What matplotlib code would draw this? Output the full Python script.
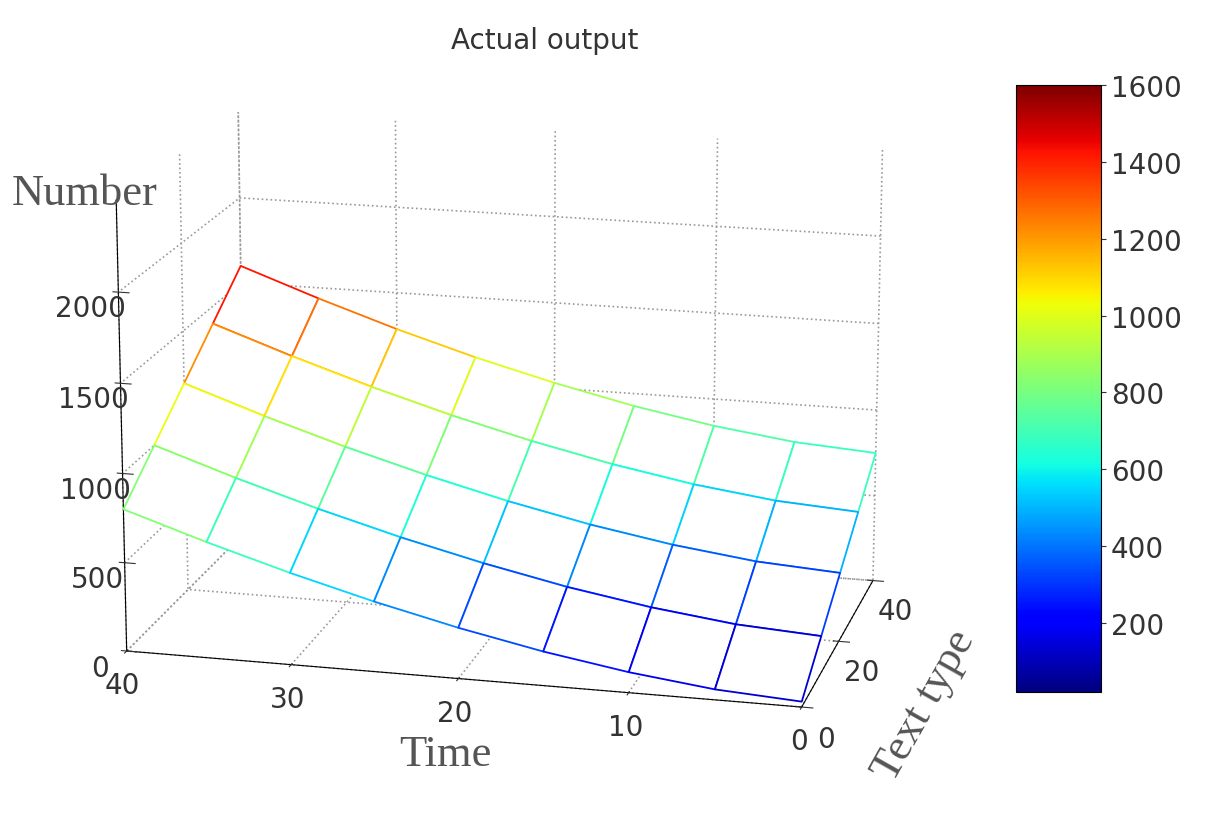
import numpy as np
import matplotlib
matplotlib.use('Agg')
from matplotlib import pyplot as plt
from matplotlib import cm, colors

# grid
time = [0, 5, 10, 15, 20, 25, 30, 35, 40]
text_type = [0, 10, 20, 30, 40]
number = [
    [30, 58, 114, 190, 284, 393, 516, 652, 800],
    [210, 238, 296, 374, 471, 582, 708, 848, 1000],
    [390, 419, 478, 558, 657, 772, 901, 1044, 1200],
    [570, 600, 660, 743, 844, 961, 1094, 1241, 1400],
    [750, 781, 843, 927, 1031, 1150, 1286, 1437, 1600],
]

T, X = np.meshgrid(time, text_type)
Z = np.array(number, dtype=float)

fig = plt.figure(figsize=(12.1, 8.2), dpi=100)
ax = fig.add_axes([-0.08, -0.04, 0.98, 1.08], projection='3d')
ax.set_box_aspect((1.7, 1.0, 1.15))
norm = colors.Normalize(vmin=20, vmax=1600)
surf = ax.plot_surface(T, X, Z, color='white', shade=False, linewidth=1.3,
                       antialiased=True)
zc = (Z[:-1, :-1] + Z[1:, 1:] + Z[:-1, 1:] + Z[1:, :-1]) / 4
surf.set_edgecolors(cm.jet(norm(zc.ravel())))
surf.set_facecolors('white')

ax.set_xlim(40, 0)
ax.set_ylim(0, 40)
ax.set_zlim(0, 2500)
ax.set_xticks([0, 10, 20, 30, 40])
ax.set_yticks([0, 20, 40])
ax.set_zticks([0, 500, 1000, 1500, 2000])
ax.view_init(elev=16, azim=-76)
ax.zaxis._axinfo['juggled'] = (1, 2, 0)
ax.tick_params(labelsize=20, colors='#333333')
for a in (ax.xaxis, ax.yaxis, ax.zaxis):
    a.set_pane_color((1, 1, 1, 0))
    a._axinfo['grid'].update(color='#999999', linestyle=':', linewidth=1.2)
serif = dict(family='Liberation Serif', size=32, color='#555555')
ax.set_xlabel('Time', labelpad=22, **serif)
ax.set_ylabel('Text type', labelpad=22, **serif)
fig.text(0.01, 0.75, 'Number', **serif)
fig.text(0.45, 0.94, 'Actual output', fontsize=20, color='#333333', ha='center')

cax = fig.add_axes([0.84, 0.155, 0.07, 0.74])
cb = fig.colorbar(cm.ScalarMappable(norm=norm, cmap='jet'), cax=cax)
cb.set_ticks([200, 400, 600, 800, 1000, 1200, 1400, 1600])
cb.ax.tick_params(labelsize=20, colors='#333333')

plt.savefig('out.png', dpi=100)
